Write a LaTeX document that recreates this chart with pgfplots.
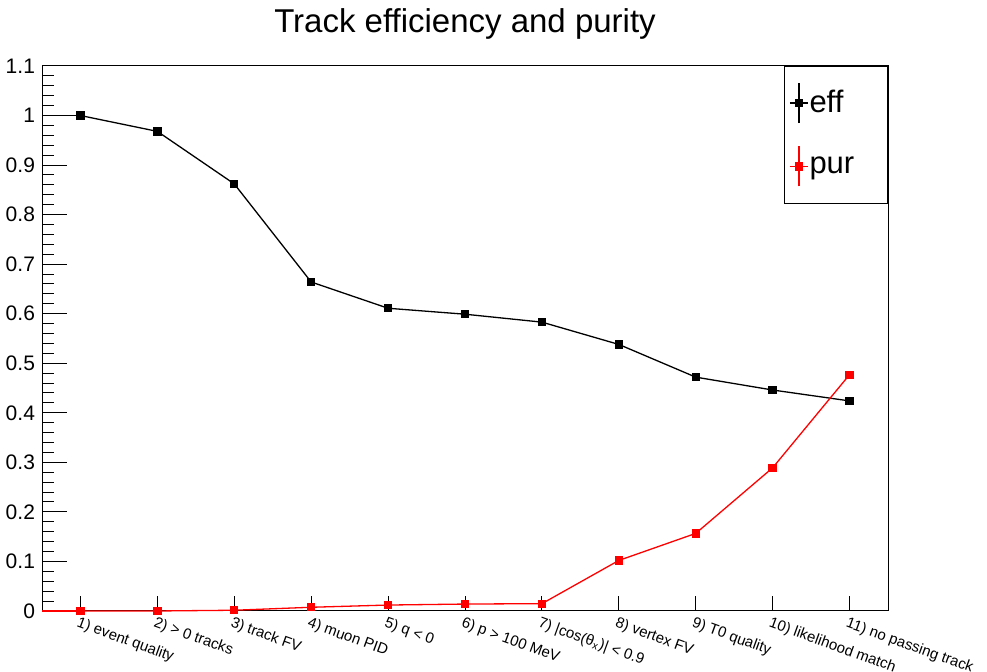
\documentclass[border=0pt]{standalone}
\usepackage{pgfplots}
\pgfplotsset{compat=1.18}
\usepackage{fontspec}
\setmainfont{Liberation Sans}

% ROOT-like cross: short line, error bar, square marker
\pgfplotsset{
  rootlegend/.style={
    legend image code/.code={
      \draw[##1, mark=none] (0pt,0pt) -- (9pt,0pt);
      \draw[##1, mark=none] (4.5pt,-10pt) -- (4.5pt,10pt);
      \draw[##1, only marks] plot coordinates {(4.5pt,0pt)};
    }
  }
}

\begin{document}
\begin{tikzpicture}
\useasboundingbox (-21pt,-30.5pt) rectangle (472.5pt,305.5pt);
\begin{axis}[
  at={(0,0)}, anchor=south west,
  scale only axis,
  width=423pt, height=272.5pt,
  xmin=0.5, xmax=11.5,
  ymin=0, ymax=1.1,
  clip=false,
  axis line style={line width=0.5pt},
  tick align=inside,
  xtick pos=bottom, ytick pos=left,
  xtick={1,...,11},
  xticklabels={
    1) event quality,
    2) > 0 tracks,
    3) track FV,
    4) muon PID,
    5) q < 0,
    6) p > 100 MeV,
    {7) |cos(θ\textsubscript{x})| < 0.9},
    8) vertex FV,
    9) T0 quality,
    10) likelihood match,
    11) no passing track},
  x tick label style={rotate=-20, anchor=north west, inner sep=0pt,
    yshift=-2.5pt, xshift=0.5pt, font=\fontsize{7.5}{9}\selectfont},
  xtick style={/pgfplots/major tick length=7.5pt, line width=0.5pt, black},
  ytick={0,0.1,...,1.1},
  yticklabels={0,0.1,0.2,0.3,0.4,0.5,0.6,0.7,0.8,0.9,1,1.1},
  minor y tick num=4,
  major tick length=12.5pt,
  minor tick length=6pt,
  ytick style={line width=0.5pt, black},
  y tick label style={font=\fontsize{10.5}{12}\selectfont},
  title={Track efficiency and purity},
  title style={at={(0.5,1)}, anchor=base, yshift=10.5pt,
    font=\fontsize{16.5}{19}\selectfont},
  rootlegend,
  legend style={at={(1,1)}, anchor=north east, draw=black,
    line width=0.5pt, inner xsep=2.5pt, inner ysep=8pt,
    row sep=11pt, font=\fontsize{15.5}{18}\selectfont,
    nodes={inner sep=0.5pt, anchor=west}},
  legend cell align=left,
]
% line from the left edge to the first bin, as ROOT draws it
\addplot[black, line width=0.65pt, forget plot] coordinates {(0.5,1.0) (1,1.0)};
\addplot[red, line width=0.65pt, forget plot] coordinates {(0.5,0.0) (1,0.0)};

\addplot[black, line width=0.65pt, mark=square*, mark size=1.75pt,
  error bars/.cd, y dir=both, y explicit, error mark=none]
  coordinates {
  (1,1.000) +- (0,0.000)
  (2,0.968) +- (0,0.002)
  (3,0.862) +- (0,0.003)
  (4,0.664) +- (0,0.004)
  (5,0.611) +- (0,0.004)
  (6,0.599) +- (0,0.004)
  (7,0.583) +- (0,0.004)
  (8,0.538) +- (0,0.004)
  (9,0.472) +- (0,0.004)
  (10,0.446) +- (0,0.004)
  (11,0.424) +- (0,0.004)
};
\addlegendentry{\makebox[36pt][l]{eff}}

\addplot[red, line width=0.65pt, mark=square*, mark size=1.75pt,
  error bars/.cd, y dir=both, y explicit, error mark=none]
  coordinates {
  (1,0.000) +- (0,0.000)
  (2,0.000) +- (0,0.000)
  (3,0.0015) +- (0,0.000)
  (4,0.0075) +- (0,0.001)
  (5,0.012) +- (0,0.001)
  (6,0.014) +- (0,0.001)
  (7,0.0148) +- (0,0.001)
  (8,0.102) +- (0,0.002)
  (9,0.1566) +- (0,0.003)
  (10,0.289) +- (0,0.004)
  (11,0.477) +- (0,0.005)
};
\addlegendentry{\makebox[36pt][l]{pur}}
\end{axis}
\end{tikzpicture}
\end{document}
